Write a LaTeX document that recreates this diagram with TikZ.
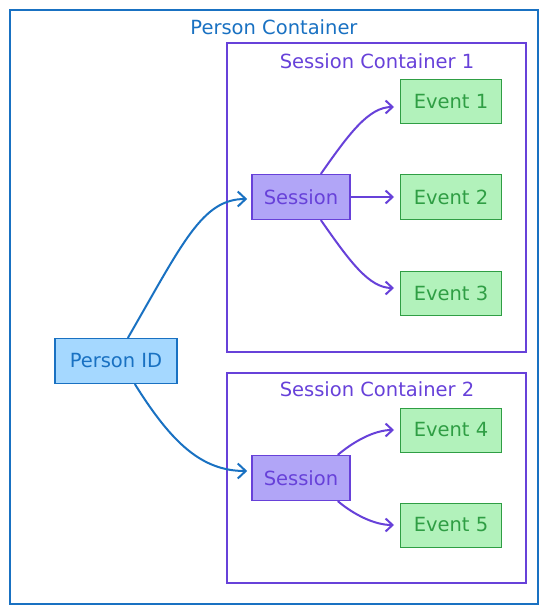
\documentclass[tikz,border=0pt]{standalone}
\usepackage{fontspec}
\setmainfont{DejaVu Sans}
\usepackage{xcolor}
\usetikzlibrary{arrows.meta}
\definecolor{pblue}{HTML}{1971C2}
\definecolor{pbluefill}{HTML}{A5D8FF}
\definecolor{sviolet}{HTML}{6741D9}
\definecolor{svioletfill}{HTML}{B1A5F7}
\definecolor{egreen}{HTML}{2F9E44}
\definecolor{egreenfill}{HTML}{B2F2BB}

\begin{document}
\begin{tikzpicture}[x=1pt, y=-1pt, font=\fontsize{19.5}{23}\selectfont,
		pid/.style={draw=pblue, fill=pbluefill, text=pblue, line width=1.6pt, minimum width=122pt, minimum height=45pt},
		sess/.style={draw=sviolet, fill=svioletfill, text=sviolet, line width=1.6pt, minimum width=98pt, minimum height=45pt},
		evt/.style={draw=egreen, fill=egreenfill, text=egreen, line width=1pt, minimum width=101pt, minimum height=44pt},
		parr/.style={pblue, line width=2pt, line cap=round, -{Straight Barb[length=8pt, width=15pt]}},
		sarr/.style={sviolet, line width=2pt, line cap=round, -{Straight Barb[length=7pt, width=13pt]}}]
				\useasboundingbox (0,0) rectangle (548,612);
				
				% containers
				\draw[pblue, line width=1.8pt] (10,10) rectangle (538,604);
				\node[pblue] (ptitle) at (274,27) {Person Container};
				\draw[sviolet, line width=1.6pt] (227,43) rectangle (526,352);
				\node[sviolet] (ctitle1) at (377,61) {Session Container 1};
				\draw[sviolet, line width=1.6pt] (227,373) rectangle (526,583);
				\node[sviolet] (ctitle2) at (377,389) {Session Container 2};
				
				% nodes
				\node[pid] (person) at (116,361) {Person ID};
				\node[sess] (s1) at (301,197) {Session};
				\node[sess] (s2) at (301,478) {Session};
				\foreach \i/\y in {1/102, 2/197, 3/293, 4/430, 5/525} {
					\node[evt] (e\i) at (451,\y) {Event \i};
				}
				
				% arrows (y runs downwards, so upward angles are negative)
				\draw[parr] ([xshift=12pt]person.north) .. controls +(-60:110) and +(180:45) .. ([xshift=-4pt,yshift=-2pt]s1.west);
				\draw[parr] ([xshift=19pt]person.south) .. controls +(58:70) and +(180:45) .. ([xshift=-4pt,yshift=7pt]s2.west);
				\draw[sarr] ([xshift=20pt]s1.north) .. controls +(-55:50) and +(180:25) .. ([xshift=-6pt,yshift=-5pt]e1.west);
				\draw[sarr] (s1.east) -- ([xshift=-6pt]e2.west);
				\draw[sarr] ([xshift=20pt]s1.south) .. controls +(55:50) and +(180:25) .. ([xshift=-6pt,yshift=5pt]e3.west);
				\draw[sarr] ([xshift=37pt]s2.north) .. controls +(-40:20) and +(180:20) .. ([xshift=-6pt]e4.west);
				\draw[sarr] ([xshift=37pt]s2.south) .. controls +(40:20) and +(180:20) .. ([xshift=-6pt]e5.west);
			\end{tikzpicture}
\end{document}
